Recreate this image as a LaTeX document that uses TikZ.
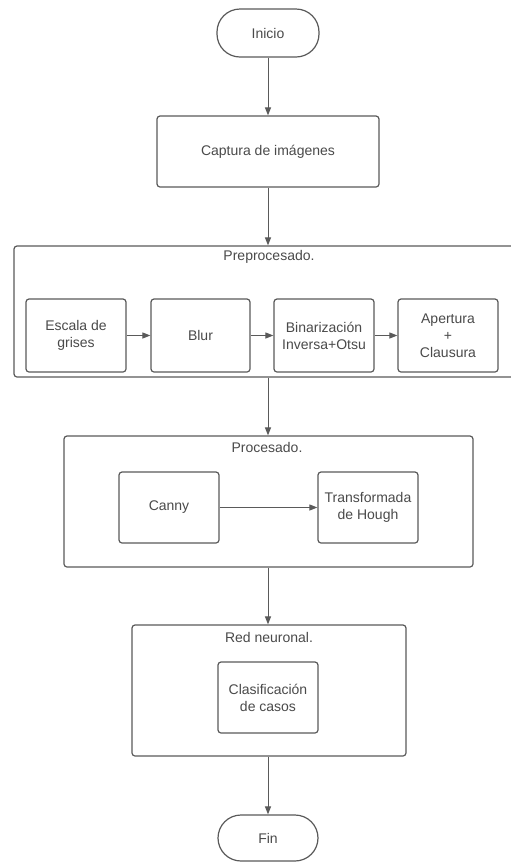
\documentclass[tikz,border=0pt]{standalone}
\usepackage{fontspec}
\setmainfont{Liberation Sans}
\usetikzlibrary{arrows.meta}
\definecolor{lc}{HTML}{5A5A5A}
\definecolor{tc}{HTML}{4A4A4A}
\begin{document}
\begin{tikzpicture}[x=1pt,y=-1pt,
  every node/.style={font=\fontsize{14}{17}\selectfont, text=tc, align=center, inner sep=0pt},
  boxstyle/.style={draw=lc, line width=1.2pt, rounded corners=3pt, fill=white},
  termstyle/.style={draw=lc, line width=1.2pt, rounded corners=23pt, fill=white},
  container/.style={draw=lc, line width=1.2pt, rounded corners=3pt},
  conn/.style={draw=lc, line width=1pt, -{Triangle[length=8pt,width=6pt]}}]
\useasboundingbox (0,0) rectangle (511,863);
\fill[white] (0,0) rectangle (511,863);
% terminals and main box
\node[termstyle, minimum width=102pt, minimum height=48pt] (inicio) at (268,33) {Inicio};
\node[boxstyle, minimum width=222pt, minimum height=71pt] (captura) at (268,151.5) {Captura de imágenes};
% Preprocesado container
\node[container, minimum width=500pt, minimum height=131pt] (pre) at (264,311.5) {};
\node (prelabel) at (269,257) {Preprocesado.};
\node[boxstyle, minimum width=100pt, minimum height=73pt] (escala) at (76,335.5) {Escala de\\grises};
\node[boxstyle, minimum width=99pt, minimum height=73pt] (blur) at (200.5,335.5) {Blur};
\node[boxstyle, minimum width=100pt, minimum height=73pt] (bin) at (324,335.5) {Binarización\\Inversa+Otsu};
\node[boxstyle, minimum width=100pt, minimum height=73pt] (aper) at (448,335.5) {Apertura\\+\\Clausura};
% Procesado container
\node[container, minimum width=409pt, minimum height=131pt] (proc) at (268.5,501.5) {};
\node (proclabel) at (267,447) {Procesado.};
\node[boxstyle, minimum width=100pt, minimum height=71pt] (canny) at (169,507.5) {Canny};
\node[boxstyle, minimum width=100pt, minimum height=71pt] (hough) at (368,507.5) {Transformada\\de Hough};
% Red neuronal container
\node[container, minimum width=274pt, minimum height=131pt] (red) at (269,690.5) {};
\node (redlabel) at (269,637) {Red neuronal.};
\node[boxstyle, minimum width=100pt, minimum height=71pt] (clas) at (268,697.5) {Clasificación\\de casos};
\node[termstyle, minimum width=100pt, minimum height=46pt] (fin) at (268,838) {Fin};
% connectors
\draw[conn] (inicio.south) -- (captura.north);
\draw[conn] (captura.south) -- (captura.south |- pre.north);
\draw[conn] (escala.east) -- (blur.west);
\draw[conn] (blur.east) -- (bin.west);
\draw[conn] (bin.east) -- (aper.west);
\draw[conn] (captura.south |- pre.south) -- (captura.south |- proc.north);
\draw[conn] (canny.east) -- (hough.west);
\draw[conn] (captura.south |- proc.south) -- (captura.south |- red.north);
\draw[conn] (captura.south |- red.south) -- (fin.north);
\end{tikzpicture}
\end{document}
